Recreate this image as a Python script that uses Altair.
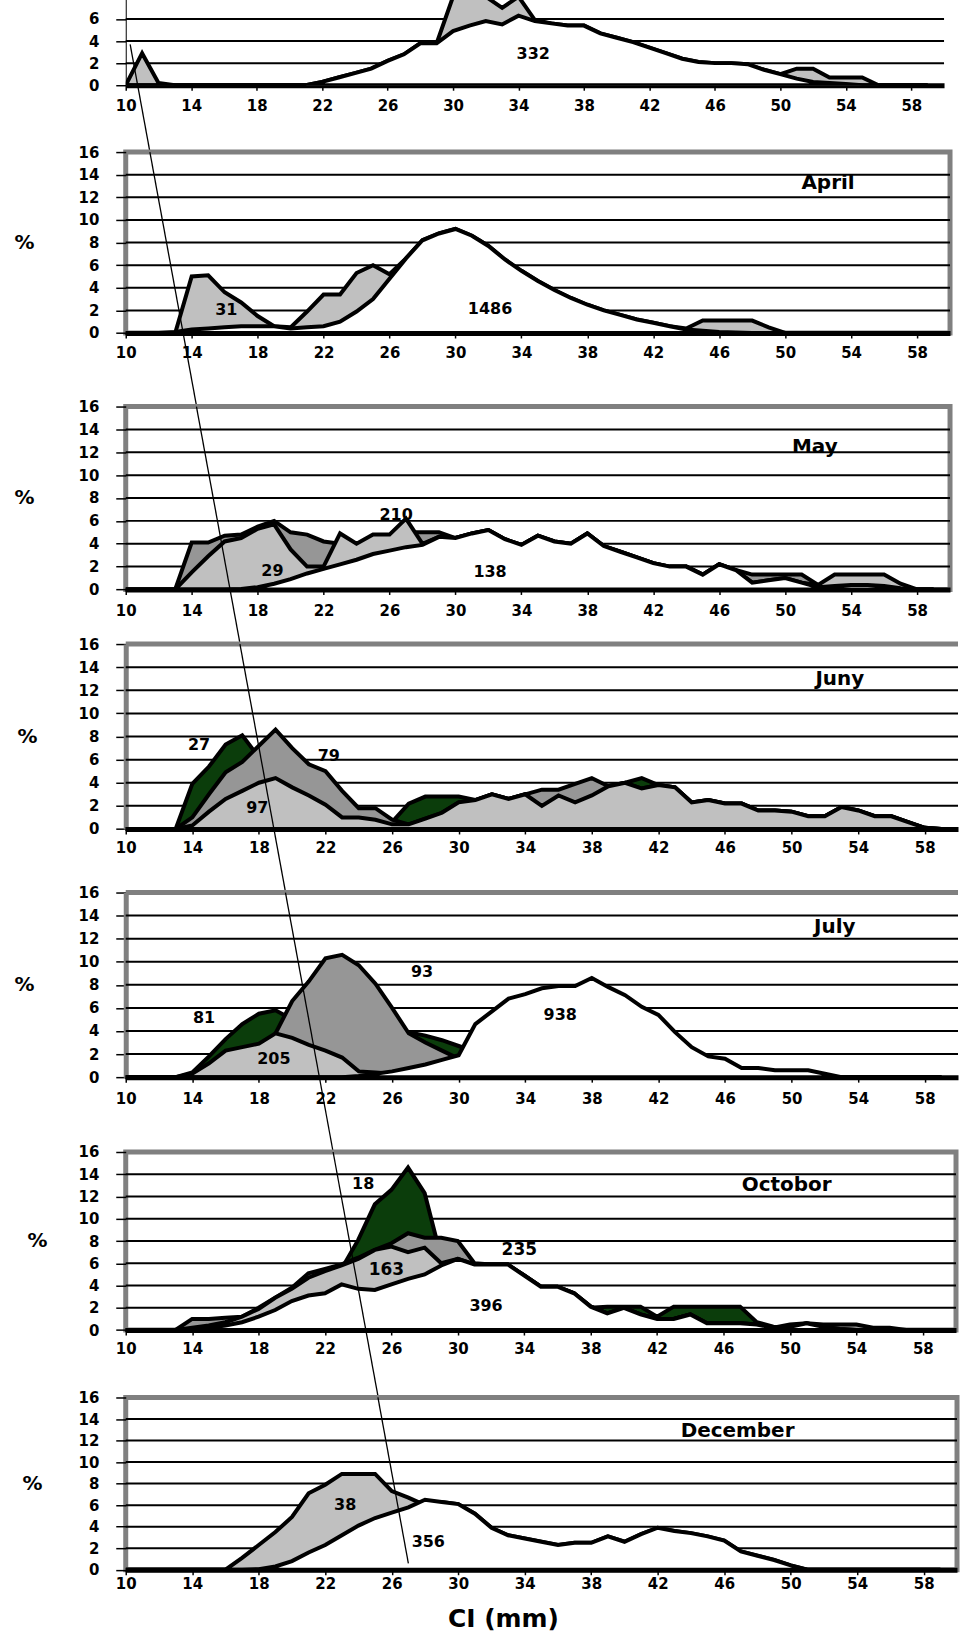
import altair as alt
import pandas as pd

FONT = "DejaVu Sans"
X = list(range(10, 60))            # size classes (mm), one value per class
XTICKS = list(range(10, 59, 4))

LIGHT = "#c0c0c0"
MED = "#969696"
GREEN = "#0b3d0b"
WHITE = "#ffffff"

# ---------------- top (cropped) panel ----------------
P0_GRAY = [0, 2.9, 0.2, 0, 0, 0, 0, 0, 0, 0,
           0, 0, 0.3, 0.7, 1.1, 1.5, 2.2, 2.8, 3.8, 3.8,
           8.5, 9.5, 9.0, 7.0, 8.5, 5.9, 5.6, 5.4, 5.4, 4.7,
           4.3, 3.9, 3.4, 2.9, 2.4, 2.1, 2.0, 2.0, 1.9, 1.4,
           1.0, 1.5, 1.5, 0.7, 0.7, 0.7, 0, 0, 0, 0]
P0_WHITE = [0, 0, 0, 0, 0, 0, 0, 0, 0, 0,
            0, 0, 0.3, 0.7, 1.1, 1.5, 2.2, 2.8, 3.8, 3.8,
            4.9, 5.4, 5.8, 5.5, 6.3, 5.8, 5.6, 5.4, 5.4, 4.7,
            4.3, 3.9, 3.4, 2.9, 2.4, 2.1, 2.0, 2.0, 1.9, 1.4,
            1.0, 0.6, 0.3, 0.2, 0.1, 0, 0, 0, 0, 0]
P0_TEXT = ["332"]
P0_LX = [34.9]
P0_LY = [2.8]
P0_FS = [16]

# ---------------- April ----------------
APR_31 = [0, 0, 0, 0, 5.0, 5.1, 3.6, 2.7, 1.5, 0.6,
          0.5, 1.9, 3.4, 3.4, 5.3, 6.0, 5.2, 6.6, 8.2, 8.8,
          9.2, 8.6, 7.7, 6.5, 5.5, 4.6, 3.8, 3.1, 2.5, 2.0,
          1.6, 1.2, 0.9, 0.6, 0.4, 1.1, 1.1, 1.1, 1.1, 0.5,
          0, 0, 0, 0, 0, 0, 0, 0, 0, 0]
APR_1486 = [0, 0, 0, 0.1, 0.3, 0.4, 0.5, 0.6, 0.6, 0.6,
            0.4, 0.5, 0.6, 1.0, 1.9, 3.0, 4.8, 6.6, 8.2, 8.8,
            9.2, 8.6, 7.7, 6.5, 5.5, 4.6, 3.8, 3.1, 2.5, 2.0,
            1.6, 1.2, 0.9, 0.6, 0.3, 0.2, 0.1, 0.05, 0, 0,
            0, 0, 0, 0, 0, 0, 0, 0, 0, 0]
APR_TEXT = ["April", "31", "1486"]
APR_LX = [52.6, 16.1, 32.1]
APR_LY = [13.3, 2.0, 2.1]
APR_FS = [20, 16, 16]

# ---------------- May ----------------
MAY_MED = [0, 0, 0, 0, 4.1, 4.1, 4.7, 4.8, 5.5, 6.0,
           5.0, 4.8, 4.2, 4.0, 3.9, 4.5, 4.6, 5.0, 5.0, 5.0,
           4.5, 4.9, 5.2, 4.4, 3.9, 4.7, 4.2, 4.0, 4.9, 3.8,
           3.3, 2.8, 2.3, 2.0, 2.0, 1.3, 2.2, 1.7, 1.3, 1.3,
           1.3, 1.3, 0.4, 0, 0, 0, 0, 0, 0, 0]
MAY_LIGHT = [0, 0, 0, 0, 1.5, 2.9, 4.2, 4.5, 5.3, 5.7,
             3.5, 2.0, 2.0, 4.9, 4.0, 4.8, 4.8, 6.2, 4.0, 4.6,
             4.5, 4.9, 5.2, 4.4, 3.9, 4.7, 4.2, 4.0, 4.9, 3.8,
             3.3, 2.8, 2.3, 2.0, 2.0, 1.3, 2.2, 1.7, 0.6, 0.8,
             1.0, 0.6, 0.4, 1.3, 1.3, 1.3, 1.3, 0.5, 0, 0]
MAY_138 = [0, 0, 0, 0, 0, 0, 0, 0.05, 0.2, 0.5,
           0.9, 1.4, 1.8, 2.2, 2.6, 3.1, 3.4, 3.7, 3.9, 4.6,
           4.5, 4.9, 5.2, 4.4, 3.9, 4.7, 4.2, 4.0, 4.9, 3.8,
           3.3, 2.8, 2.3, 2.0, 2.0, 1.3, 2.2, 1.7, 0.6, 0.8,
           1.0, 0.6, 0.2, 0.3, 0.4, 0.4, 0.3, 0.1, 0, 0]
MAY_TEXT = ["May", "210", "29", "138"]
MAY_LX = [51.8, 26.4, 18.9, 32.1]
MAY_LY = [12.5, 6.5, 1.6, 1.5]
MAY_FS = [20, 16, 16, 16]

# ---------------- Juny ----------------
JUN_27 = [0, 0, 0, 0, 3.9, 5.4, 7.3, 8.1, 6.2, 4.4,
          3.6, 2.9, 2.1, 1.0, 1.0, 0.8, 0.6, 2.2, 2.8, 2.8,
          2.8, 2.5, 3.0, 2.6, 3.0, 2.0, 2.9, 2.3, 2.9, 3.7,
          4.0, 4.4, 3.8, 3.6, 2.3, 2.5, 2.2, 2.2, 1.6, 1.6,
          1.5, 1.1, 1.1, 1.9, 1.6, 1.1, 1.1, 0.6, 0.1, 0]
JUN_79 = [0, 0, 0, 0, 1.0, 3.0, 4.9, 5.8, 7.2, 8.6,
          7.0, 5.6, 5.0, 3.3, 1.8, 1.8, 0.8, 0.4, 0.9, 1.4,
          2.3, 2.5, 3.0, 2.6, 3.0, 3.4, 3.4, 3.9, 4.4, 3.7,
          4.0, 3.5, 3.8, 3.6, 2.3, 2.5, 2.2, 2.2, 1.6, 1.6,
          1.5, 1.1, 1.1, 1.9, 1.6, 1.1, 1.1, 0.6, 0.1, 0]
JUN_97 = [0, 0, 0, 0, 0.3, 1.5, 2.6, 3.3, 4.0, 4.4,
          3.6, 2.9, 2.1, 1.0, 1.0, 0.8, 0.4, 0.4, 0.9, 1.4,
          2.3, 2.5, 3.0, 2.6, 3.0, 2.0, 2.9, 2.3, 2.9, 3.7,
          4.0, 3.5, 3.8, 3.6, 2.3, 2.5, 2.2, 2.2, 1.6, 1.6,
          1.5, 1.1, 1.1, 1.9, 1.6, 1.1, 1.1, 0.6, 0.1, 0]
JUN_TEXT = ["Juny", "27", "79", "97"]
JUN_LX = [52.9, 14.4, 22.2, 17.9]
JUN_LY = [13.0, 7.3, 6.3, 1.8]
JUN_FS = [20, 16, 16, 16]

# ---------------- July ----------------
JUL_81 = [0, 0, 0, 0, 0.4, 1.8, 3.3, 4.6, 5.5, 5.8,
          5.0, 4.5, 4.2, 4.0, 3.9, 3.8, 3.8, 3.9, 3.6, 3.2,
          2.7, 2.2, 0, 0, 0, 0, 0, 0, 0, 0,
          0, 0, 0, 0, 0, 0, 0, 0, 0, 0,
          0, 0, 0, 0, 0, 0, 0, 0, 0, 0]
JUL_93 = [0, 0, 0, 0, 0, 0, 0, 0, 0, 3.8,
          6.6, 8.3, 10.3, 10.6, 9.7, 8.1, 6.0, 3.8, 3.0, 2.3,
          1.6, 0, 0, 0, 0, 0, 0, 0, 0, 0,
          0, 0, 0, 0, 0, 0, 0, 0, 0, 0,
          0, 0, 0, 0, 0, 0, 0, 0, 0, 0]
JUL_205 = [0, 0, 0, 0, 0.3, 1.2, 2.3, 2.6, 2.9, 3.8,
           3.4, 2.8, 2.3, 1.7, 0.5, 0.4, 0.3, 0.3, 0, 0,
           0, 0, 0, 0, 0, 0, 0, 0, 0, 0,
           0, 0, 0, 0, 0, 0, 0, 0, 0, 0,
           0, 0, 0, 0, 0, 0, 0, 0, 0, 0]
JUL_938 = [0, 0, 0, 0, 0, 0, 0, 0, 0, 0,
           0, 0, 0, 0, 0.1, 0.3, 0.5, 0.8, 1.1, 1.5,
           1.9, 4.6, 5.7, 6.8, 7.2, 7.7, 7.9, 7.9, 8.6, 7.8,
           7.1, 6.1, 5.4, 3.9, 2.6, 1.8, 1.6, 0.8, 0.8, 0.6,
           0.6, 0.6, 0.3, 0, 0, 0, 0, 0, 0, 0]
JUL_TEXT = ["July", "81", "205", "93", "938"]
JUL_LX = [52.6, 14.7, 18.9, 27.8, 36.1]
JUL_LY = [13.0, 5.1, 1.6, 9.1, 5.4]
JUL_FS = [20, 16, 16, 16, 16]

# ---------------- Octobor ----------------
OCT_18 = [0, 0, 0, 0, 0, 0, 0, 0, 0, 0,
          0, 0, 0, 5.5, 8.1, 11.3, 12.6, 14.6, 12.3, 6.5,
          0, 0, 0, 0, 0, 0, 0, 0, 2.0, 2.1,
          2.1, 2.1, 1.2, 2.1, 2.1, 2.1, 2.1, 2.1, 0.7, 0.3,
          0, 0, 0, 0, 0, 0, 0, 0, 0, 0]
OCT_235 = [0, 0, 0, 0, 1.0, 1.0, 1.1, 1.2, 2.0, 2.9,
           3.8, 5.1, 5.5, 5.9, 6.5, 7.2, 7.8, 8.7, 8.3, 8.3,
           8.0, 6.0, 5.9, 5.9, 4.9, 3.9, 3.9, 3.3, 2.1, 1.5,
           2.0, 1.4, 1.0, 1.0, 1.4, 0.6, 0.6, 0.6, 0.5, 0.2,
           0.5, 0.6, 0.5, 0.5, 0.5, 0.2, 0.2, 0, 0, 0]
OCT_163 = [0, 0, 0, 0, 0.2, 0.4, 0.7, 1.2, 1.9, 2.9,
           3.7, 4.7, 5.3, 5.8, 6.4, 7.2, 7.5, 7.0, 7.4, 6.0,
           6.4, 5.9, 5.9, 5.9, 4.9, 3.9, 3.9, 3.3, 2.1, 1.5,
           2.0, 1.4, 1.0, 1.0, 1.4, 0.6, 0.6, 0.6, 0.5, 0.2,
           0.3, 0.6, 0.3, 0.1, 0, 0, 0, 0, 0, 0]
OCT_396 = [0, 0, 0, 0, 0.1, 0.2, 0.4, 0.7, 1.2, 1.8,
           2.6, 3.1, 3.3, 4.1, 3.7, 3.6, 4.1, 4.6, 5.0, 5.8,
           6.4, 5.9, 5.9, 5.9, 4.9, 3.9, 3.9, 3.3, 2.1, 1.5,
           2.0, 1.4, 1.0, 1.0, 1.4, 0.6, 0.6, 0.6, 0.5, 0.2,
           0.3, 0.6, 0.3, 0.1, 0, 0, 0, 0, 0, 0]
OCT_TEXT = ["Octobor", "18", "235", "163", "396"]
OCT_LX = [49.8, 24.3, 33.7, 25.7, 31.7]
OCT_LY = [13.0, 13.1, 7.2, 5.4, 2.2]
OCT_FS = [20, 16, 17, 17, 16]

# ---------------- December ----------------
DEC_38 = [0, 0, 0, 0, 0, 0, 0, 1.1, 2.3, 3.5,
          4.9, 7.1, 7.9, 8.9, 8.9, 8.9, 7.3, 6.7, 6.0, 6.3,
          6.1, 5.2, 3.9, 3.2, 2.9, 2.6, 2.3, 2.5, 2.5, 3.1,
          2.6, 3.3, 3.9, 3.6, 3.4, 3.1, 2.7, 1.7, 1.3, 0.9,
          0.4, 0, 0, 0, 0, 0, 0, 0, 0, 0]
DEC_356 = [0, 0, 0, 0, 0, 0, 0, 0, 0.05, 0.3,
           0.8, 1.6, 2.3, 3.2, 4.1, 4.8, 5.3, 5.8, 6.5, 6.3,
           6.1, 5.2, 3.9, 3.2, 2.9, 2.6, 2.3, 2.5, 2.5, 3.1,
           2.6, 3.3, 3.9, 3.6, 3.4, 3.1, 2.7, 1.7, 1.3, 0.9,
           0.4, 0, 0, 0, 0, 0, 0, 0, 0, 0]
DEC_TEXT = ["December", "38", "356"]
DEC_LX = [46.8, 23.2, 28.2]
DEC_LY = [12.9, 6.0, 2.6]
DEC_FS = [20, 16, 16]

# diagonal reference line: start in top panel, end in December panel (data coords)
LINE_START = (10.27, 3.7)
LINE_END = (27.0, 0.6)

# ---------------- layout ----------------
TOPS = [0, 152.7, 406.7, 644, 892.3, 1152.3, 1396.7]
HEIGHTS = [86, 181.3, 183.3, 185.3, 185, 178.4, 172.6]
WIDTHS = [820, 826, 826, 834, 834, 832, 833]
YMAX = [7.77, 16, 16, 16, 16, 16, 16]
TOP_CUT = 0.25          # top panel: areas cut just above its visible range
XLABPAD = [8, 8, 9, 7, 9, 7, 2]
PCT_X = [0, -102, -102, -99, -102, -89, -94]
BORDER = ["none", "full", "full", "open", "open", "full", "full"]
BORDER_COLOR = "#808080"

PANELS = [
    ([(P0_GRAY, LIGHT), (P0_WHITE, WHITE)], P0_TEXT, P0_LX, P0_LY, P0_FS),
    ([(APR_31, LIGHT), (APR_1486, WHITE)], APR_TEXT, APR_LX, APR_LY, APR_FS),
    ([(MAY_MED, MED), (MAY_LIGHT, LIGHT), (MAY_138, WHITE)], MAY_TEXT, MAY_LX, MAY_LY, MAY_FS),
    ([(JUN_27, GREEN), (JUN_79, MED), (JUN_97, LIGHT)], JUN_TEXT, JUN_LX, JUN_LY, JUN_FS),
    ([(JUL_81, GREEN), (JUL_93, MED), (JUL_205, LIGHT), (JUL_938, WHITE)], JUL_TEXT, JUL_LX, JUL_LY, JUL_FS),
    ([(OCT_18, GREEN), (OCT_235, MED), (OCT_163, LIGHT), (OCT_396, WHITE)], OCT_TEXT, OCT_LX, OCT_LY, OCT_FS),
    ([(DEC_38, LIGHT), (DEC_356, WHITE)], DEC_TEXT, DEC_LX, DEC_LY, DEC_FS),
]


def to_global(i, x, y):
    return ((x - 10) / 50 * WIDTHS[i], TOPS[i] + HEIGHTS[i] * (1 - y / YMAX[i]))


SX, SY = to_global(0, *LINE_START)
EX, EY = to_global(len(PANELS) - 1, *LINE_END)


def line_segment(i):
    a = SY if i == 0 else TOPS[i]
    b = EY if i == len(PANELS) - 1 else TOPS[i + 1]
    xs, ys = [], []
    for py in (a, b):
        px = SX + (EX - SX) * (py - SY) / (EY - SY)
        xs.append(10 + px / WIDTHS[i] * 50)
        ys.append(YMAX[i] * (1 - (py - TOPS[i]) / HEIGHTS[i]))
    return pd.DataFrame({"x": xs, "y": ys, "o": [0, 1]})


def panel(i):
    series, texts, lx, ly, fs = PANELS[i]
    last = i == len(PANELS) - 1
    top = i == 0
    border = BORDER[i]
    H, W = HEIGHTS[i], WIDTHS[i]
    xaxis = alt.Axis(values=XTICKS, grid=False, domain=True, domainColor="black",
                     domainWidth=5, ticks=True, tickColor="black", tickSize=5, tickWidth=1.5,
                     labelPadding=XLABPAD[i], labelFontSize=15, labelFontWeight="bold",
                     labelColor="black", labelFont=FONT, labelFlush=False,
                     title="CI (mm)" if last else None,
                     titleFontSize=25, titleFontWeight="bold", titleFont=FONT,
                     titleX=378, titleY=48.7, titleAlign="center", titleBaseline="middle",
                     titleColor="black")
    yvals = [0, 2, 4, 6] if top else list(range(0, 17, 2))
    if top:
        dom_kw = dict(domain=True, domainColor="black", domainWidth=1)
    elif border == "open":
        dom_kw = dict(domain=True, domainColor=BORDER_COLOR, domainWidth=5)
    else:
        dom_kw = dict(domain=False)
    yaxis = alt.Axis(values=yvals, grid=False, **dom_kw,
                     ticks=True, tickColor="black", tickSize=10, tickWidth=1.5,
                     labelPadding=17, labelFontSize=15, labelFontWeight="bold",
                     labelColor="black", labelFont=FONT,
                     title=None if top else "%", titleAngle=0, titleX=PCT_X[i], titleY=H / 2,
                     titleAlign="center", titleBaseline="middle", titleFontSize=20,
                     titleFontWeight="bold", titleFont=FONT, titleColor="black")
    xenc = alt.X("x:Q", scale=alt.Scale(domain=[10, 60], nice=False, zero=False), axis=xaxis)
    yenc = alt.Y("y:Q", scale=alt.Scale(domain=[0, YMAX[i]], nice=False, zero=False), axis=yaxis)

    grid_vals = [g for g in range(2, 16, 2) if g < YMAX[i]]
    layers = [alt.Chart(pd.DataFrame({"y": grid_vals})).mark_rule(
        color="black", strokeWidth=2).encode(y=yenc)]
    if border == "open":
        layers.append(alt.Chart(pd.DataFrame({"y": [YMAX[i]]})).mark_rule(
            color=BORDER_COLOR, strokeWidth=5).encode(y=yenc))
    for vals, col in series:
        df = pd.DataFrame({"x": X, "y": vals})
        ch = alt.Chart(df)
        if top:
            ch = ch.transform_calculate(y=f"min(datum.y, {YMAX[i] + TOP_CUT})")
        layers.append(ch.mark_area(
            fill=col, fillOpacity=1, stroke="black", strokeWidth=4, clip=top,
            interpolate="linear").encode(x=xenc, y=yenc))
    lab = pd.DataFrame({"x": lx, "y": ly, "t": texts, "fs": fs})
    layers.append(alt.Chart(lab).mark_text(
        font=FONT, fontWeight="bold", color="black", align="center", baseline="middle"
    ).encode(x=xenc, y=yenc, text="t:N", size=alt.Size("fs:Q", scale=None, legend=None)))
    layers.append(alt.Chart(line_segment(i)).mark_line(
        color="black", strokeWidth=1.3, clip=False).encode(x=xenc, y=yenc, order="o:Q"))
    if border == "full":
        view = alt.ViewBackground(stroke=BORDER_COLOR, strokeWidth=5)
    else:
        view = alt.ViewBackground(stroke="transparent")
    return alt.layer(*layers).properties(width=W, height=H, view=view)


def spacer(h):
    return alt.Chart(pd.DataFrame({"v": [0]})).mark_point(opacity=0).properties(
        width=10, height=h, view=alt.ViewBackground(stroke="transparent"))


items = []
for i in range(len(PANELS)):
    items.append(panel(i))
    if i < len(PANELS) - 1:
        items.append(spacer(TOPS[i + 1] - TOPS[i] - HEIGHTS[i]))

# the cut-off top of the first panel lies above the page edge
top_overflow = TOP_CUT * HEIGHTS[0] / YMAX[0] + 0.5
chart = alt.VConcatChart(vconcat=items, spacing=0, bounds="flush").properties(
    padding={"left": 11, "top": -round(top_overflow, 1), "right": 0, "bottom": 0},
    background="white"
)

chart.save("out.html", embed_options={"renderer": "svg", "actions": False})
